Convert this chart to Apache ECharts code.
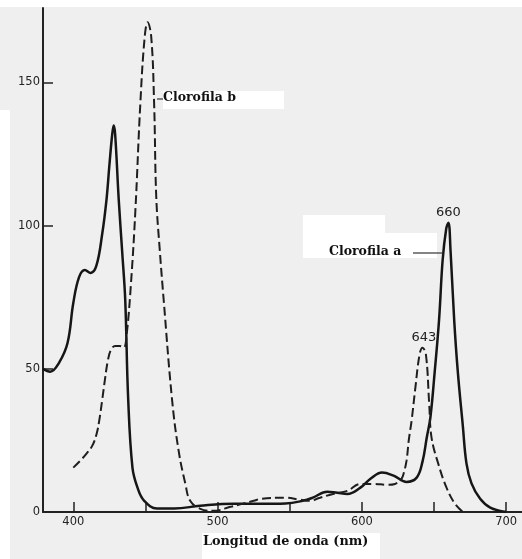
<!DOCTYPE html>
<html>
<head>
<meta charset="utf-8">
<script src="https://cdn.jsdelivr.net/npm/echarts@6/dist/echarts.min.js"></script>
<style>
  html, body { margin: 0; padding: 0; background: #efefef; }
  #chart { width: 522px; height: 559px; }
</style>
</head>
<body>
<div id="chart"></div>
<script>
'use strict';

// Clorofila a (solid) – wavelength (nm) / absorption
const chlAWave = [379, 384, 390, 396, 400, 404, 408, 412, 416, 420, 423, 425, 427, 428, 429, 431.5, 434, 436, 438, 441, 444.5, 449, 458, 470, 488, 511, 530, 547, 559, 566, 576, 583, 590, 599, 606, 614, 622, 631, 638, 642, 645, 647.5, 650.5, 653.5, 656, 658.5, 660, 661.5, 664, 666.5, 670, 672.5, 676, 682, 689, 700];
const chlAAbs  = [50, 49, 52, 59, 73, 82, 84.5, 83.5, 86, 97, 109, 121, 132, 135, 132, 109, 90, 74, 40, 15.5, 8.5, 4, 1.2, 1.2, 2.2, 2.9, 2.9, 3, 3.9, 5, 7.1, 6.7, 6.3, 8.5, 11.6, 13.8, 12.7, 10.5, 12, 17.5, 26, 33, 49, 67, 88, 99, 101, 91, 67, 49, 30, 17, 10, 4.6, 1.5, 0];

// Clorofila b (dashed)
const chlBWave = [400, 405, 409, 413, 416, 418, 420, 422, 424, 426, 429, 432, 435, 437, 440, 443, 446.5, 449.5, 451.5, 454, 456, 457.5, 460, 462.7, 468.5, 473, 477.7, 481, 488, 497, 509, 525, 530, 547, 557, 564, 571, 580, 590, 599, 608, 617.5, 623, 627.5, 629, 631, 632.5, 634.5, 637, 640, 642, 644.4, 646.7, 648.3, 653, 658.7, 664.5, 670];
const chlBAbs  = [15.5, 18, 20.3, 23, 27, 32, 39, 46.5, 53, 56.5, 58, 58, 57.5, 62, 80, 105, 143, 166, 171, 166, 143, 110, 91, 73.7, 39, 21.4, 9.8, 3.9, 1.1, 0.4, 1.8, 3.9, 4.6, 5, 4.3, 3.9, 5, 6.3, 7.4, 9.8, 9.8, 9.5, 9.8, 11.6, 13.5, 18, 25, 32, 43, 55, 57.4, 55, 37.6, 26, 16.8, 8.5, 2.9, 0];

const xTickValues = [400, 450, 500, 550, 600, 650, 700];
const xLabelValues = [400, 500, 600, 700];
const yTickValues = [50, 100, 150];
const yLabelValues = [0, 50, 100, 150];

const peakA = [660, 101];
const peakB = [643, 57.4];

function zip(xs, ys) {
  return xs.map((x, i) => [x, ys[i]]);
}

function peakMark(coord) {
  return {
    symbol: 'circle',
    symbolSize: 0,
    silent: true,
    label: {
      show: true, position: 'top', distance: 4,
      formatter: String(coord[0]),
      color: '#222', fontFamily: 'DejaVu Sans', fontSize: 13
    },
    data: [{ coord: coord }]
  };
}

const serifBold = { fontFamily: 'DejaVu Serif', fontWeight: 'bold', fill: '#111' };
const tickFont = { color: '#222', fontFamily: 'DejaVu Sans', fontSize: 11.5 };

const chart = echarts.init(document.getElementById('chart'));
chart.setOption({
  animation: false,
  backgroundColor: '#efefef',
  grid: { left: 43, right: 0, top: 8, bottom: 47 },
  xAxis: {
    type: 'value', min: 379, max: 711,
    axisLine: { lineStyle: { color: '#222', width: 2 } },
    axisTick: { inside: true, length: 10, customValues: xTickValues, lineStyle: { color: '#222', width: 1.5 } },
    axisLabel: Object.assign({ customValues: xLabelValues, margin: 4 }, tickFont),
    splitLine: { show: false }
  },
  yAxis: {
    type: 'value', min: 0, max: 176,
    axisLine: { show: true, lineStyle: { color: '#222', width: 2 } },
    axisTick: { show: true, inside: true, length: 10, customValues: yTickValues, lineStyle: { color: '#222', width: 1.5 } },
    axisLabel: Object.assign({ customValues: yLabelValues, margin: 3 }, tickFont),
    splitLine: { show: false }
  },
  series: [
    {
      name: 'Clorofila a', type: 'line', data: zip(chlAWave, chlAAbs),
      smooth: 0.4, symbol: 'none',
      lineStyle: { color: '#161616', width: 2.5 },
      markPoint: peakMark(peakA)
    },
    {
      name: 'Clorofila b', type: 'line', data: zip(chlBWave, chlBAbs),
      smooth: 0.4, symbol: 'none',
      lineStyle: { color: '#1e1e1e', width: 2, type: [9, 4] },
      markPoint: peakMark(peakB)
    }
  ],
  graphic: [
    // paper edges
    { type: 'rect', z: 0, shape: { x: 0, y: 0, width: 522, height: 7 }, style: { fill: '#fff' } },
    { type: 'rect', z: 0, shape: { x: 0, y: 110, width: 10, height: 449 }, style: { fill: '#fff' } },
    // Clorofila b
    { type: 'rect', z: 0, shape: { x: 163, y: 91, width: 121, height: 18 }, style: { fill: '#fff' } },
    { type: 'line', z: 5, shape: { x1: 157, y1: 99, x2: 163, y2: 99 }, style: { stroke: '#333', lineWidth: 1.2 } },
    { type: 'text', z: 10, left: 163, top: 91, style: Object.assign({ text: 'Clorofila b', fontSize: 12.5 }, serifBold) },
    // Clorofila a
    { type: 'rect', z: 0, shape: { x: 303, y: 215, width: 82, height: 25 }, style: { fill: '#fff' } },
    { type: 'rect', z: 0, shape: { x: 303, y: 233, width: 134, height: 25 }, style: { fill: '#fff' } },
    { type: 'line', z: 5, shape: { x1: 413, y1: 253, x2: 443, y2: 253 }, style: { stroke: '#333', lineWidth: 1.2 } },
    { type: 'text', z: 10, left: 329, top: 245, style: Object.assign({ text: 'Clorofila a', fontSize: 12.5 }, serifBold) },
    // axis title
    { type: 'rect', z: 0, shape: { x: 202, y: 533, width: 178, height: 26 }, style: { fill: '#fff' } },
    { type: 'text', z: 10, left: 203, top: 535, style: Object.assign({ text: 'Longitud de onda (nm)', fontSize: 12.8 }, serifBold) }
  ]
});
</script>
</body>
</html>
